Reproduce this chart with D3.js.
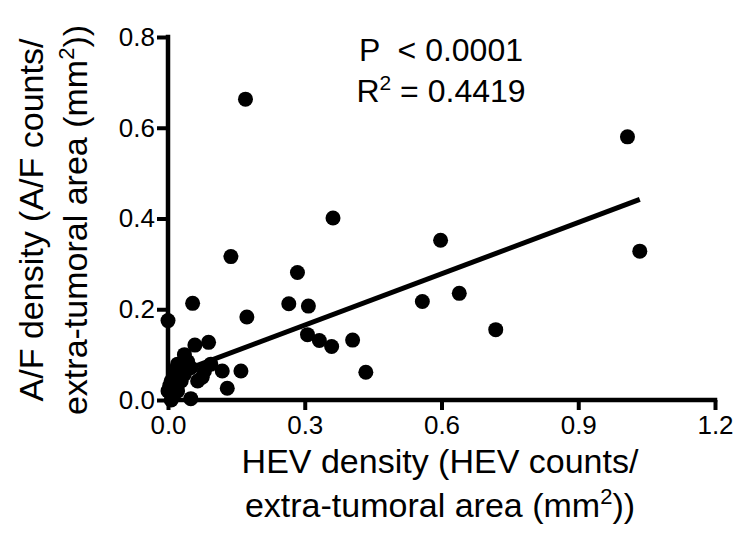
<!DOCTYPE html>
<html>
<head>
<meta charset="utf-8">
<script src="https://cdn.jsdelivr.net/npm/d3@7"></script>
<style>
  body { margin: 0; background: #fff; }
  svg { display: block; font-family: Arial, "Liberation Sans", sans-serif; }
</style>
</head>
<body>
<div id="chart"></div>
<script>
// HEV density (x) vs A/F density (y)
const hevDensity = [0.170, 1.008, 0.362, 0.598, 1.035, 0.138, 0.284, 0.054, 0.265, 0.308,
  0.558, 0.639, 0.000, 0.173, 0.719, 0.306, 0.332, 0.359, 0.405, 0.434,
  0.089, 0.059, 0.036, 0.119, 0.160, 0.130, 0.050, 0.021, 0.050, 0.080,
  0.094, 0.007, 0.000, 0.029, 0.065, 0.036, 0.014, 0.007, 0.021, 0.004,
  0.012, 0.043, 0.075];
const afDensity = [0.663, 0.580, 0.401, 0.352, 0.328, 0.316, 0.281, 0.213, 0.212, 0.207,
  0.217, 0.235, 0.175, 0.183, 0.155, 0.144, 0.131, 0.118, 0.132, 0.061,
  0.127, 0.121, 0.100, 0.064, 0.064, 0.026, 0.003, 0.079, 0.071, 0.064,
  0.079, 0.042, 0.020, 0.042, 0.042, 0.057, 0.064, 0.000, 0.020, 0.032,
  0.012, 0.085, 0.050];

// fitted line (end points in data units)
const fitX = [0.0, 1.035];
const fitY = [0.052, 0.442];

const xTicks = [0.0, 0.3, 0.6, 0.9, 1.2];
const yTicks = [0.0, 0.2, 0.4, 0.6, 0.8];

const width = 738;
const height = 547;
const margin = { left: 168, right: 23, top: 37, bottom: 147 };

const svg = d3.select("#chart")
  .append("svg")
  .attr("width", width)
  .attr("height", height);

const x = d3.scaleLinear().domain([0, 1.2]).range([margin.left, width - margin.right]);
const y = d3.scaleLinear().domain([0, 0.8]).range([height - margin.bottom, margin.top]);

// axes
const xAxis = svg.append("g")
  .attr("transform", `translate(0,${y(0)})`)
  .call(d3.axisBottom(x).tickValues(xTicks).tickFormat(d3.format(".1f")).tickSize(10).tickPadding(6));
const yAxis = svg.append("g")
  .attr("transform", `translate(${x(0)},0)`)
  .call(d3.axisLeft(y).tickValues(yTicks).tickFormat(d3.format(".1f")).tickSize(11).tickPadding(2));

[xAxis, yAxis].forEach(g => {
  g.select(".domain").attr("stroke", "#000").attr("stroke-width", 4.5)
    .attr("stroke-linecap", "square");
  g.selectAll(".tick line").attr("stroke", "#000").attr("stroke-width", 4);
  g.selectAll(".tick text").attr("fill", "#000").style("font-size", "26px")
    .style("font-family", "Arial, 'Liberation Sans', sans-serif");
});
// keep the domain paths flat (no outer ticks)
xAxis.select(".domain").attr("d", `M${x(0)},0H${x(1.2)}`);
yAxis.select(".domain").attr("d", `M0,${y(0)}V${y(0.8)}`);

// regression line
svg.append("line")
  .attr("x1", x(fitX[0])).attr("y1", y(fitY[0]))
  .attr("x2", x(fitX[1])).attr("y2", y(fitY[1]))
  .attr("stroke", "#000")
  .attr("stroke-width", 5);

// points
const points = hevDensity.map((v, i) => ({ hev: v, af: afDensity[i] }));
svg.selectAll("circle.pt")
  .data(points)
  .enter().append("circle")
  .attr("class", "pt")
  .attr("cx", d => x(d.hev))
  .attr("cy", d => y(d.af))
  .attr("r", 7.5)
  .attr("fill", "#000");

// x title
const xTitle = svg.append("text")
  .attr("text-anchor", "middle")
  .style("font-size", "34px");
xTitle.append("tspan").attr("x", 440).attr("y", 473).text("HEV density (HEV counts/");
xTitle.append("tspan").attr("x", 440).attr("y", 517).text("extra-tumoral area (mm");
xTitle.append("tspan").attr("dy", -13).style("font-size", "22px").text("2");
xTitle.append("tspan").attr("dy", 13).text("))");

// y title
const yTitle = svg.append("text")
  .attr("text-anchor", "middle")
  .attr("transform", "rotate(-90)")
  .style("font-size", "34px");
yTitle.append("tspan").attr("x", -220).attr("y", 43).text("A/F density (A/F counts/");
yTitle.append("tspan").attr("x", -220).attr("y", 87).text("extra-tumoral area (mm");
yTitle.append("tspan").attr("dy", -13).style("font-size", "22px").text("2");
yTitle.append("tspan").attr("dy", 13).text("))");

// stats
svg.append("text")
  .attr("x", 441).attr("y", 61)
  .attr("text-anchor", "middle")
  .style("font-size", "32px")
  .style("white-space", "pre")
  .attr("xml:space", "preserve")
  .text("P  < 0.0001");
const r2 = svg.append("text")
  .attr("x", 441).attr("y", 102)
  .attr("text-anchor", "middle")
  .style("font-size", "32px");
r2.append("tspan").text("R");
r2.append("tspan").attr("dy", -12).style("font-size", "21px").text("2");
r2.append("tspan").attr("dy", 12).text(" = 0.4419");
</script>
</body>
</html>
